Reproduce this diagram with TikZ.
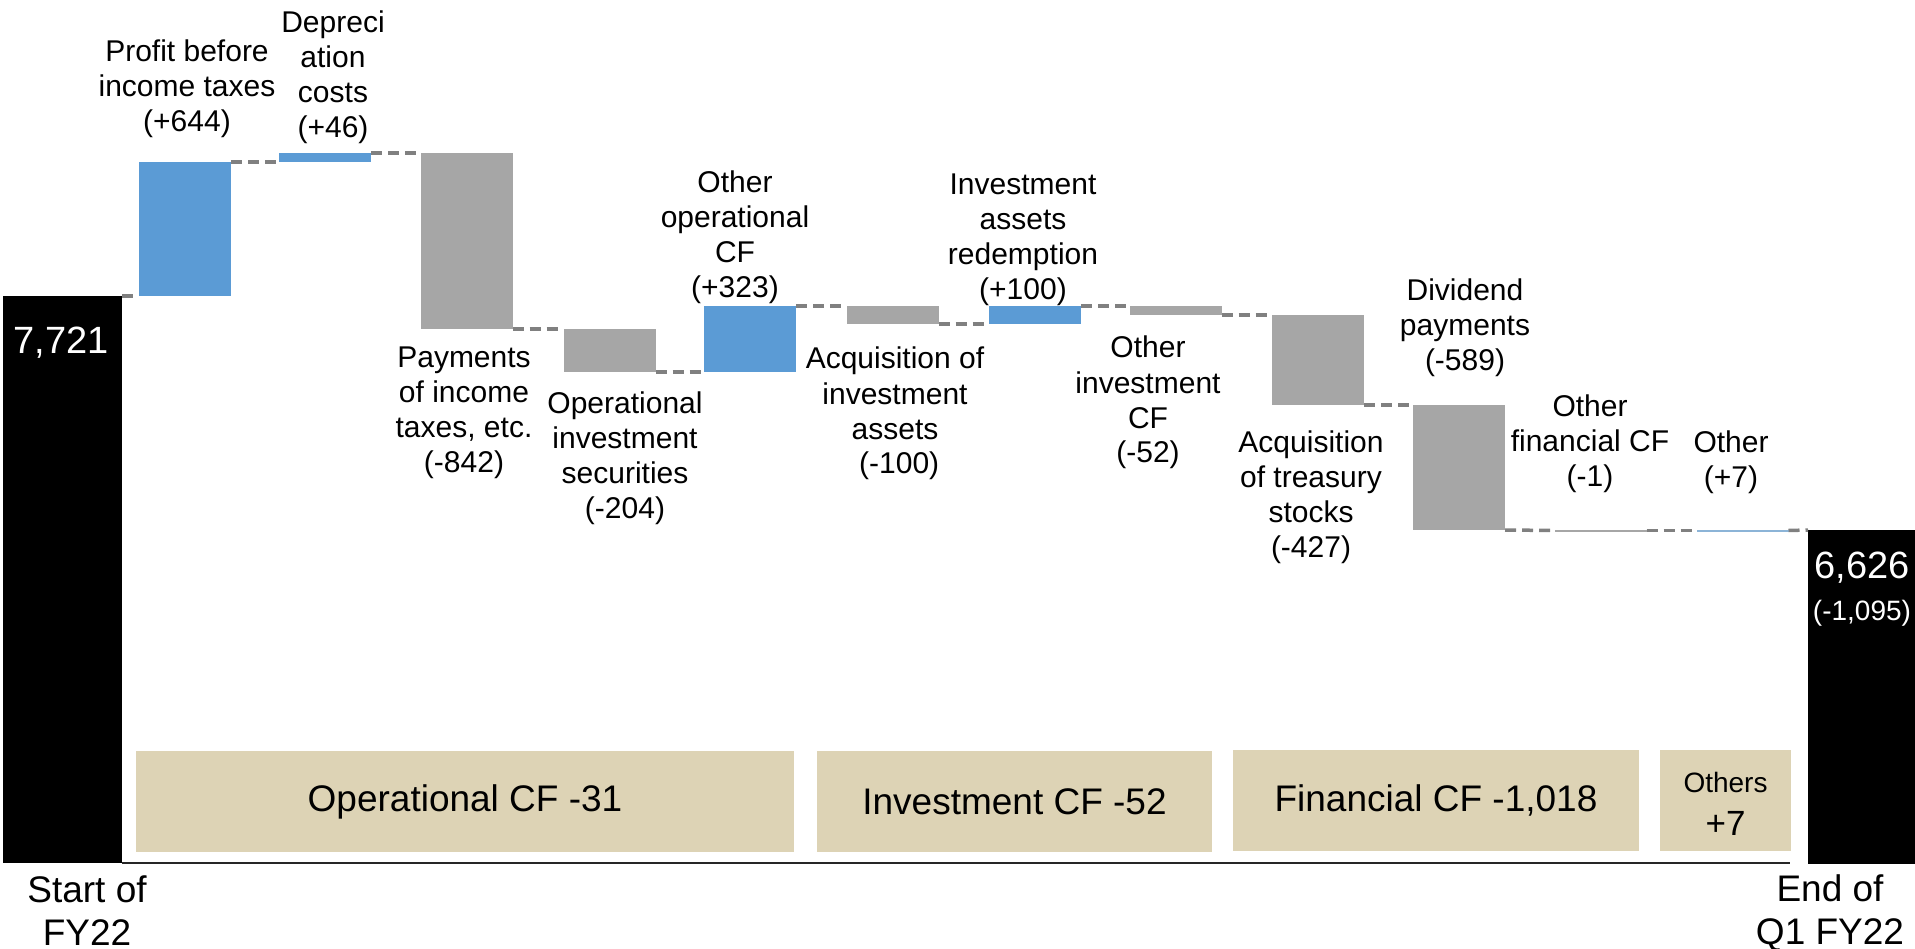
\documentclass[tikz,border=0pt]{standalone}
\usepackage{fontspec}
\setmainfont{Liberation Sans}
\definecolor{cblue}{RGB}{91,155,213}
\definecolor{cgray}{RGB}{166,166,166}
\definecolor{ctan}{RGB}{221,211,181}
\definecolor{cdash}{RGB}{128,128,128}
\definecolor{clblue}{RGB}{140,180,215}
\begin{document}
\begin{tikzpicture}[x=1pt,y=-1pt,
  bar/.style={inner sep=0pt, outer sep=0pt, draw=none, minimum width=92pt},
  conn/.style={draw=cdash, line width=3.5pt, dash pattern=on 11pt off 6pt},
  lbl/.style={anchor=base, align=center, inner sep=0pt, font=\fontsize{30}{35}\selectfont},
  catbox/.style={fill=ctan, inner sep=0pt, outer sep=0pt, minimum height=101pt, font=\fontsize{37}{43}\selectfont},
  endlbl/.style={anchor=base, align=center, inner sep=0pt, font=\fontsize{37}{43}\selectfont},
  axisline/.style={draw=black!85, line width=2pt}]
\useasboundingbox (0,0) rectangle (1915,949);
% category boxes
\node[catbox, minimum width=658pt] (cop) at (465,801.5) {Operational CF -31};
\node[catbox, minimum width=395pt] (cinv) at (1014.5,801.5) {Investment CF -52};
\node[catbox, minimum width=406pt] (cfin) at (1436,800.5) {Financial CF -1,018};
\node[catbox, minimum width=131pt] (coth) at (1725.5,800.5) {};
\node[anchor=base, inner sep=0pt, font=\fontsize{28}{30}\selectfont] (cothA) at (1725.5,792) {Others};
\node[anchor=base, inner sep=0pt, font=\fontsize{35}{40}\selectfont] (cothB) at (1725.5,835) {+7};
% bars
\node[bar, fill=black, minimum width=119pt, minimum height=567pt] (start) at (62.5,579.5) {};
\node[bar, fill=cblue, minimum height=134pt] (profit) at (185,229) {};
\node[bar, fill=cblue, minimum height=9pt] (depr) at (325,157.5) {};
\node[bar, fill=cgray, minimum height=176pt] (pay) at (466.5,241) {};
\node[bar, fill=cgray, minimum height=43pt] (ois) at (609.5,350.5) {};
\node[bar, fill=cblue, minimum height=66pt] (oocf) at (750,339) {};
\node[bar, fill=cgray, minimum height=18pt] (acq) at (892.5,315) {};
\node[bar, fill=cblue, minimum height=18pt] (red) at (1035,315) {};
\node[bar, fill=cgray, minimum height=9pt] (oinv) at (1175.5,310.5) {};
\node[bar, fill=cgray, minimum height=90pt] (trs) at (1318,360) {};
\node[bar, fill=cgray, minimum height=125pt] (div) at (1459,467.5) {};
\node[bar, fill=cgray, minimum height=2pt] (ofin) at (1600.5,530.5) {};
\node[bar, fill=clblue, minimum height=2pt] (oth) at (1742.5,530.5) {};
\node[bar, fill=black, minimum width=107pt, minimum height=334pt] (end) at (1861.5,697) {};
% axis
\coordinate (axend) at (1790,863);
\draw[axisline] (start.south east) -- (axend);
% connectors
\draw[conn] (start.north east) -- (profit.south west);
\draw[conn] (profit.north east) -- (depr.south west);
\draw[conn] (depr.north east) -- (pay.north west);
\draw[conn] (pay.south east) -- (ois.north west);
\draw[conn] (ois.south east) -- (oocf.south west);
\draw[conn] (oocf.north east) -- (acq.north west);
\draw[conn] (acq.south east) -- (red.south west);
\draw[conn] (red.north east) -- (oinv.north west);
\draw[conn] (oinv.south east) -- (trs.north west);
\draw[conn] (trs.south east) -- (div.north west);
\draw[conn] (div.south east) -- (ofin.west);
\draw[conn] (ofin.east) -- (oth.west);
\draw[conn] (oth.east) -- (end.north west);
% totals
\node[anchor=base, inner sep=0pt, text=white, font=\fontsize{38}{40}\selectfont] (vstart) at (61,354) {7,721};
\node[anchor=base, inner sep=0pt, text=white, font=\fontsize{38}{40}\selectfont] (vend) at (1862,578) {6,626};
\node[anchor=base, inner sep=0pt, text=white, font=\fontsize{28}{30}\selectfont] (vdiff) at (1862,620) {(-1,095)};
% labels (anchored at the baseline of the last line)
\node[lbl] (lprofit) at (187,132) {Profit before\\income taxes\\(+644)};
\node[lbl] (ldepr) at (333,138) {Depreci\\ation\\costs\\(+46)};
\node[lbl] (lpay) at (464,472) {Payments\\of income\\taxes, etc.\\(-842)};
\node[lbl] (lois) at (625,518) {Operational\\investment\\securities\\(-204)};
\node[lbl] (loocf) at (735,298) {Other\\operational\\CF\\(+323)};
\node[lbl] (lacq) at (895,474) {Acquisition of\\investment\\assets\\\ (-100)};
\node[lbl] (lred) at (1023,300) {Investment\\assets\\redemption\\(+100)};
\node[lbl] (loinv) at (1148,463) {Other\\investment\\CF\\(-52)};
\node[lbl] (ltrs) at (1311,557) {Acquisition\\of treasury\\stocks\\(-427)};
\node[lbl] (ldiv) at (1465,371) {Dividend\\payments\\(-589)};
\node[lbl] (lofin) at (1590,486) {Other\\financial CF\\(-1)};
\node[lbl] (loth) at (1731,487) {Other\\(+7)};
\node[endlbl] (lstart) at (87,945) {Start of\\FY22};
\node[endlbl] (lend) at (1830,944) {End of\\Q1 FY22};
\end{tikzpicture}
\end{document}
